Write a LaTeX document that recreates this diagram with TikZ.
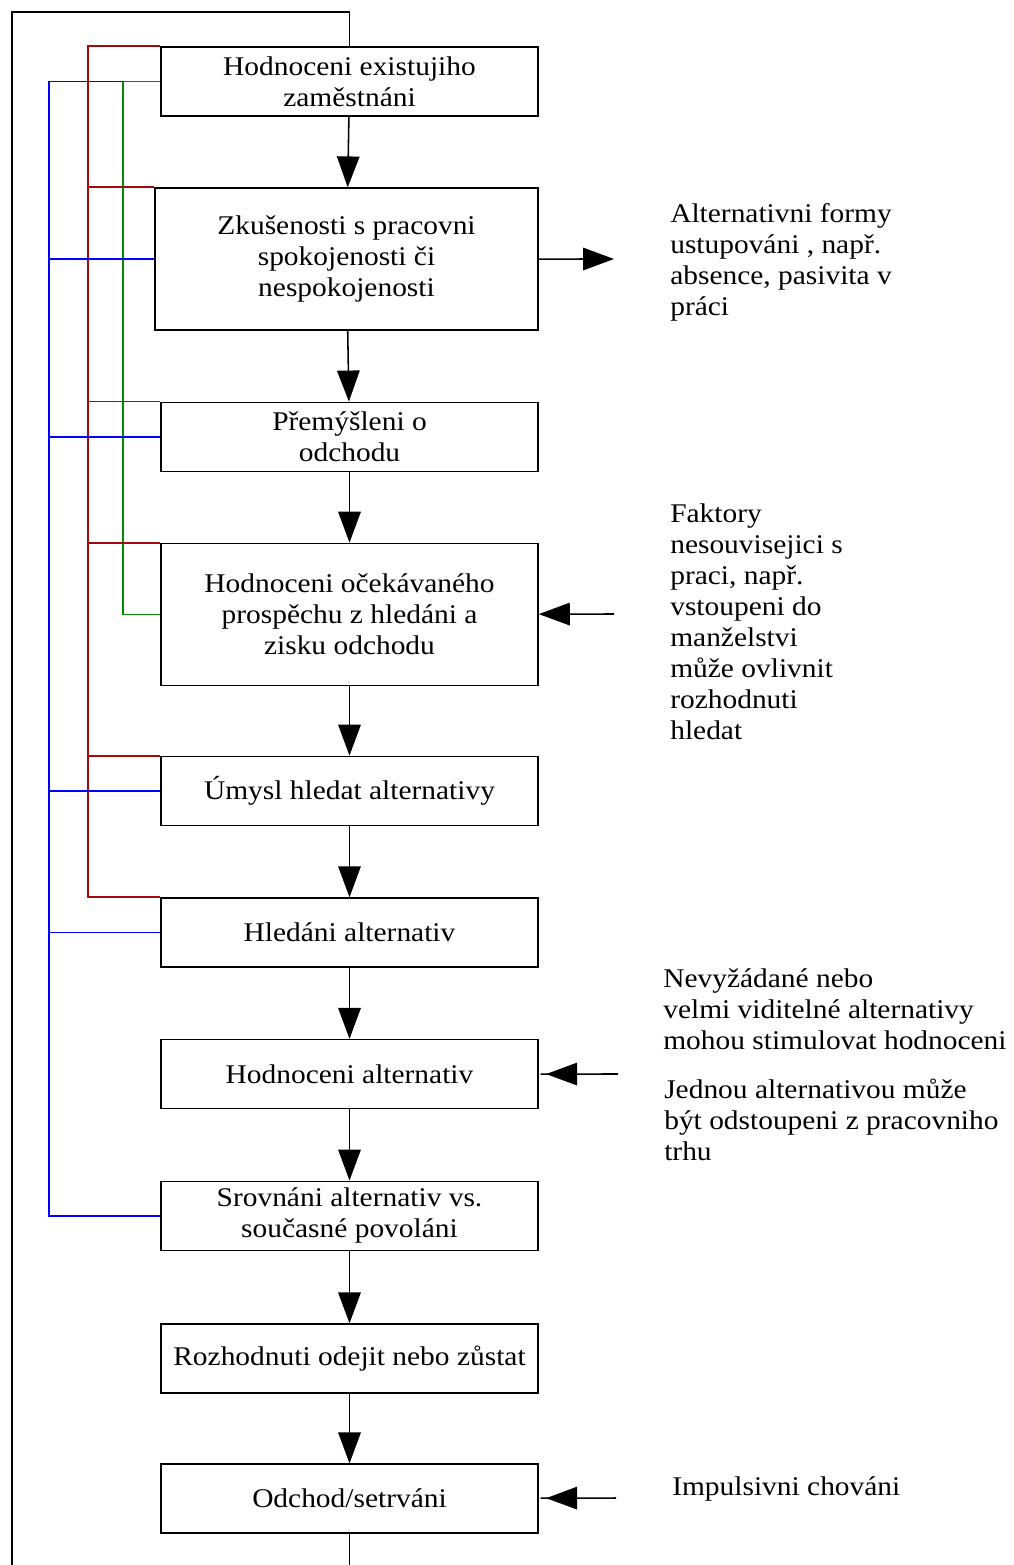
\documentclass[tikz,border=0pt]{standalone}
\usepackage{fontspec}
\setmainfont{Liberation Serif}[FakeStretch=1.09]
\usetikzlibrary{positioning,arrows.meta}
\definecolor{busred}{RGB}{160,10,10}
\definecolor{busgreen}{RGB}{0,140,0}
\definecolor{busblue}{RGB}{0,0,255}
\tikzset{
  stage/.style={draw,line width=1.1pt,inner sep=0pt,minimum width=9.425cm,minimum height=1.725cm,align=center},
  tall/.style={minimum height=3.55cm},
  note/.style={inner sep=0pt,align=left,anchor=north west},
  arr/.style={-{Triangle[length=22pt,width=16pt]},line width=1.1pt},
  garr/.style={-{Triangle[length=22pt,width=16pt,sep=4pt] _},line width=1.1pt},
  bus/.style={line width=1.3pt},
}

\begin{document}
\begin{tikzpicture}[x=0.025cm,y=-0.025cm,node distance=3.54cm,on grid,font=\fontsize{19.2}{22}\selectfont]
			\useasboundingbox (0,0) rectangle (1013,1565);
			% main chain
			\node[stage](hod) at (349.5,81.5) {Hodnoceni existujiho\\zaměstnáni};
			\node[stage,tall,minimum width=9.575cm](zk)[below=4.44cm of hod,xshift=-0.075cm] {Zkušenosti s pracovni\\spokojenosti či\\nespokojenosti};
			\node[stage](pre)[below=4.44cm of zk,xshift=0.075cm] {Přemýšleni o\\odchodu};
			\node[stage,tall](oce)[below=4.44cm of pre] {Hodnoceni očekávaného\\prospěchu z hledáni a\\zisku odchodu};
			\node[stage](um)[below=4.41cm of oce] {Úmysl hledat alternativy};
			\node[stage](hle)[below=of um] {Hledáni alternativ};
			\node[stage](halt)[below=of hle] {Hodnoceni alternativ};
			\node[stage](sro)[below=of halt] {Srovnáni alternativ vs.\\současné povoláni};
			\node[stage](roz)[below=3.57cm of sro] {Rozhodnuti odejit nebo zůstat};
			\node[stage](odch)[below=3.5cm of roz] {Odchod/setrváni};
			% side notes
			\node[note](altn) at (670,203.5) {Alternativni formy\\ustupováni , např.\\absence, pasivita v\\práci};
			\node[note](fakn) at (670,503.5) {Faktory\\nesouvisejici s\\praci, např.\\vstoupeni do\\manželstvi\\může ovlivnit\\rozhodnuti\\hledat};
			\node[note](nevn) at (663,968.5) {Nevyžádané nebo\\velmi viditelné alternativy\\mohou stimulovat hodnoceni};
			\node[note](jedn) at (664,1078.5) {Jednou alternativou může\\být odstoupeni z pracovniho\\trhu};
			\node[note](impn) at (672,1476.5) {Impulsivni chováni};
			\coordinate (altout) at (614,259);
			\coordinate (fakin) at (614,614);
			\coordinate (nevin) at (618,1074);
			\coordinate (impin) at (616,1498);
			% feedback buses
			\coordinate (redx) at (88,0);
			\coordinate (greenx) at (123,0);
			\coordinate (bluex) at (49,0);
			\coordinate (loopx) at (12,12);
			\draw[bus,busgreen] (hod.west) -| (greenx |- oce.west) -- (oce.west);
			\draw[bus,busred] (hod.north west) -| (redx |- hle.north west) -- (hle.north west);
			\foreach \r in {zk,pre,oce,um}
				\draw[bus,busred] (redx |- \r.north west) -- (\r.north west);
			\draw[bus,busblue] (hod.west -| greenx) -| (bluex |- sro.west) -- (sro.west);
			\foreach \b in {zk,pre,um,hle}
				\draw[bus,busblue] (bluex |- \b.west) -- (\b.west);
			\draw[line width=1.1pt] (odch) -- ++(0,80) -| (loopx) -| (hod);
			% arrows
			\path[arr]
			(hod) edge (zk)
			(zk) edge (pre)
			(pre) edge (oce)
			(oce) edge (um)
			(um) edge (hle)
			(hle) edge (halt)
			(halt) edge (sro)
			(sro) edge (roz)
			(roz) edge (odch);
			\draw[arr] (zk) -- (altout);
			\draw[arr] (fakin) -- (oce);
			\draw[garr] (nevin) -- (halt);
			\draw[garr] (impin) -- (odch);
\end{tikzpicture}
\end{document}
